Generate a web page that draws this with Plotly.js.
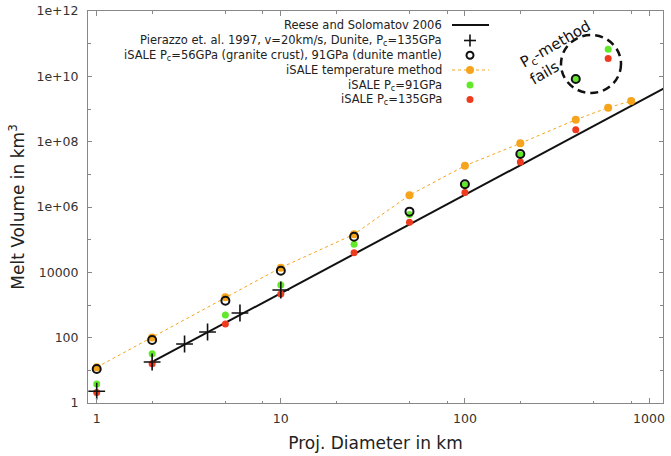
<!DOCTYPE html>
<html>
<head>
<meta charset="utf-8">
<script src="https://cdn.plot.ly/plotly-3.0.1.min.js"></script>
<style>html,body{margin:0;padding:0;background:#fff;}#chart{width:671px;height:456px;}</style>
</head>
<body>
<div id="chart"></div>
<script>
// ---- data ----
const reeseD = [2, 1200];
const reeseV = [18, 4.2e9];

const pierazzoD = [1, 2, 3, 4, 6, 10];
const pierazzoV = [2.3, 18, 64, 149, 569, 2880];

const tempD = [1, 2, 5, 10, 25, 50, 100, 200, 400, 600, 800];
const tempV = [12.4, 102, 1720, 13900, 1.46e5, 2.3e6, 1.83e7, 8.9e7, 4.7e8, 1.1e9, 1.75e9];

const mixD = [1, 2, 5, 10, 25, 50, 100, 200, 400];
const mixV = [11, 85, 1350, 11200, 1.23e5, 7.2e5, 5.0e6, 4.2e7, 8.3e9];

const pc91D = [1, 2, 5, 10, 25, 50, 100, 200, 400, 600];
const pc91V = [3.8, 32, 495, 4100, 7.2e4, 5.9e5, 4.7e6, 3.9e7, 8.3e9, 6.7e10];

const pc135D = [1, 2, 5, 10, 25, 50, 100, 200, 400, 600];
const pc135V = [2.1, 16, 262, 2180, 4.0e4, 3.4e5, 2.8e6, 2.4e7, 2.3e8, 3.5e10];

const xMajorTicks = [1, 10, 100, 1000];
const xMajorLabels = ['1', '10', '100', '1000'];
const xMinorTicks = [2, 5, 8, 20, 50, 80, 200, 500, 800];
const yMajorTicks = [1, 100, 1e4, 1e6, 1e8, 1e10, 1e12];
const yMajorLabels = ['1', '100', '10000', '1e+06', '1e+08', '1e+10', '1e+12'];
const yMinorTicks = [10, 1e3, 1e5, 1e7, 1e9, 1e11];

const legendNames = [
  'Reese and Solomatov 2006',
  'Pierazzo et. al. 1997, v=20km/s, Dunite, P<sub>c</sub>=135GPa',
  'iSALE P<sub>c</sub>=56GPa (granite crust), 91GPa (dunite mantle)',
  'iSALE temperature method',
  'iSALE P<sub>c</sub>=91GPa',
  'iSALE P<sub>c</sub>=135GPa'
];

// ---- styles ----
const FONT = 'DejaVu Sans, Liberation Sans, sans-serif';
const ORANGE = '#f5a41c';
const GREEN = '#62e82a';
const RED = '#f03a1e';

const traces = [
  {x: reeseD, y: reeseV, mode: 'lines', name: legendNames[0],
   line: {color: '#111', width: 2}},
  {x: tempD, y: tempV, mode: 'lines+markers', name: legendNames[3],
   line: {color: ORANGE, width: 1, dash: 'dot'},
   marker: {color: ORANGE, size: 8}},
  {x: pc91D, y: pc91V, mode: 'markers', name: legendNames[4],
   marker: {color: GREEN, size: 7}},
  {x: pc135D, y: pc135V, mode: 'markers', name: legendNames[5],
   marker: {color: RED, size: 7}},
  {x: mixD, y: mixV, mode: 'markers', name: legendNames[2],
   marker: {symbol: 'circle-open', color: '#111', size: 8, line: {width: 2, color: '#111'}}},
  {x: pierazzoD, y: pierazzoV, mode: 'markers', name: legendNames[1],
   marker: {symbol: 'cross-thin-open', color: '#111', size: 12, line: {width: 1.6, color: '#111'}}}
];

// ---- hand-made legend (text on the left, symbol on the right) ----
const L = 88, R = 663, T = 11, B = 403;
const px = v => (v - L) / (R - L);
const py = v => (B - v) / (B - T);
const rows = [25, 40.5, 55.2, 70, 85, 99.5];
const textRight = 444, symX = 470, lineX0 = 452, lineX1 = 489;

const annotations = legendNames.map((n, i) => ({
  xref: 'paper', yref: 'paper', x: px(textRight), y: py(rows[i]),
  xanchor: 'right', yanchor: 'middle', text: n, showarrow: false,
  font: {family: FONT, size: 11.5, color: '#222'}
}));
annotations.push({
  xref: 'paper', yref: 'paper', x: px(560), y: py(52.5),
  xanchor: 'center', yanchor: 'middle', align: 'left', textangle: -30,
  text: 'P<sub>c</sub>-method<br>fails', showarrow: false,
  font: {family: FONT, size: 15, color: '#111'}
});

function dot(yRow, size, fill, lineColor, lw) {
  return {type: 'circle', xref: 'paper', yref: 'paper', xsizemode: 'pixel', ysizemode: 'pixel',
    xanchor: px(symX), yanchor: py(yRow), x0: -size / 2, x1: size / 2, y0: -size / 2, y1: size / 2,
    fillcolor: fill, line: {color: lineColor, width: lw}};
}
const shapes = [
  {type: 'line', xref: 'paper', yref: 'paper', x0: px(lineX0), x1: px(lineX1), y0: py(rows[0]), y1: py(rows[0]),
   line: {color: '#111', width: 2}},
  {type: 'line', xref: 'paper', yref: 'paper', x0: px(symX - 6), x1: px(symX + 6), y0: py(rows[1]), y1: py(rows[1]),
   line: {color: '#111', width: 1.6}},
  {type: 'line', xref: 'paper', yref: 'paper', x0: px(symX), x1: px(symX), y0: py(rows[1] - 6), y1: py(rows[1] + 6),
   line: {color: '#111', width: 1.6}},
  dot(rows[2], 7, 'rgba(0,0,0,0)', '#111', 2),
  {type: 'line', xref: 'paper', yref: 'paper', x0: px(lineX0), x1: px(lineX1), y0: py(rows[3]), y1: py(rows[3]),
   line: {color: ORANGE, width: 1, dash: 'dot'}},
  dot(rows[3], 8, ORANGE, ORANGE, 0),
  dot(rows[4], 7, GREEN, GREEN, 0),
  dot(rows[5], 7, RED, RED, 0),
  // dashed ellipse around the failed points
  {type: 'circle', xref: 'paper', yref: 'paper', x0: px(561), x1: px(621), y0: py(93), y1: py(35),
   line: {color: '#111', width: 2.5, dash: '8px,5px'}}
];

const axisCommon = {
  type: 'log', showgrid: false, zeroline: false, showline: true, linecolor: '#888', linewidth: 1,
  mirror: 'ticks', ticks: 'inside', tickcolor: '#888', tickwidth: 1,
  tickfont: {family: FONT, size: 12.5, color: '#333'}
};

const layout = {
  width: 671, height: 456,
  margin: {l: L, r: 671 - R, t: T, b: 456 - B},
  paper_bgcolor: '#fff', plot_bgcolor: '#fff',
  showlegend: false,
  xaxis: Object.assign({}, axisCommon, {
    range: [-0.0473, 3.076],
    tickmode: 'array', tickvals: xMajorTicks, ticktext: xMajorLabels, ticklen: 5,
    minor: {tickmode: 'array', tickvals: xMinorTicks, ticks: 'inside', ticklen: 2.5, tickcolor: '#888', tickwidth: 1},
    ticklabelstandoff: 4,
    title: {text: 'Proj. Diameter in km', font: {family: FONT, size: 17, color: '#222'}, standoff: 12}
  }),
  yaxis: Object.assign({}, axisCommon, {
    range: [0, 12],
    tickmode: 'array', tickvals: yMajorTicks, ticktext: yMajorLabels, ticklen: 4,
    minor: {tickmode: 'array', tickvals: yMinorTicks, ticks: 'inside', ticklen: 3, tickcolor: '#888', tickwidth: 1},
    ticklabelstandoff: 6,
    title: {text: 'Melt Volume in km<sup>3</sup>', font: {family: FONT, size: 17, color: '#222'}, standoff: 7}
  }),
  annotations: annotations,
  shapes: shapes
};

Plotly.newPlot('chart', traces, layout, {displayModeBar: false, staticPlot: true});
</script>
</body>
</html>
